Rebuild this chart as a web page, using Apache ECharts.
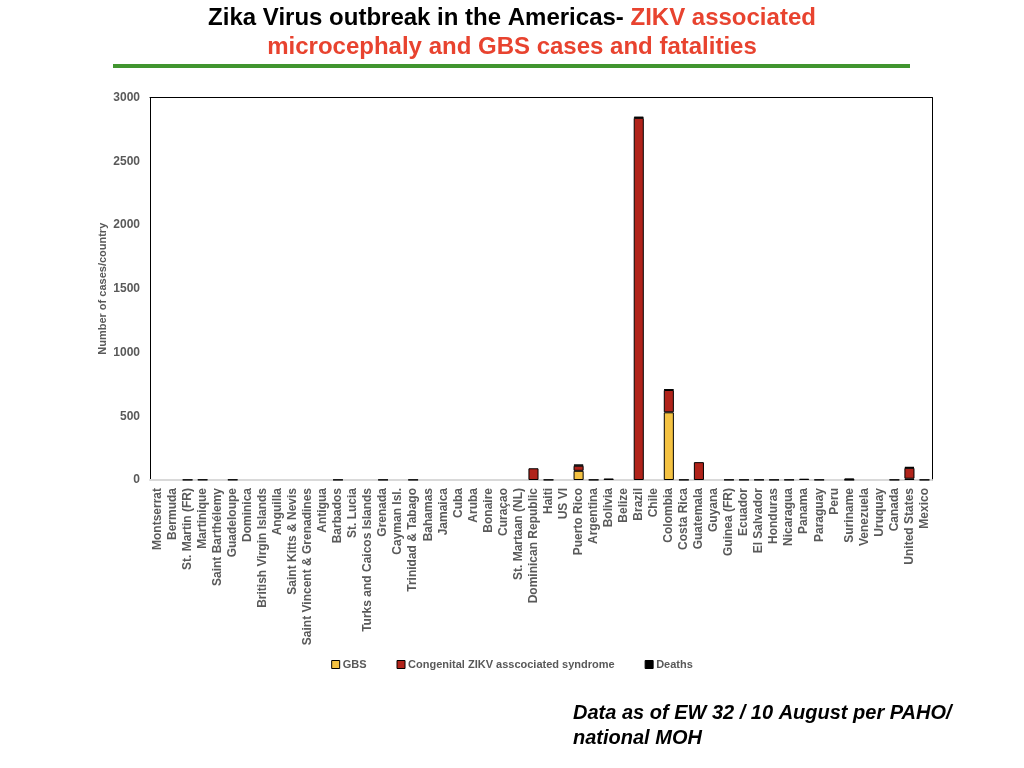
<!DOCTYPE html>
<html>
<head>
<meta charset="utf-8">
<title>Zika Virus outbreak in the Americas</title>
<script src="https://cdn.jsdelivr.net/npm/echarts@6/dist/echarts.min.js"></script>
<style>
    html, body { margin: 0; padding: 0; background: #fff; }
    #chart { width: 1024px; height: 768px; }
</style>
</head>
<body>
<div id="chart"></div>
<script>
// countries in order along the x axis
var countries = [
    'Montserrat', 'Bermuda', 'St. Martin (FR)', 'Martinique', 'Saint Barthélemy',
    'Guadeloupe', 'Dominica', 'British Virgin Islands', 'Anguilla', 'Saint Kitts & Nevis',
    'Saint Vincent & Grenadines', 'Antigua', 'Barbados', 'St. Lucia', 'Turks and Caicos Islands',
    'Grenada', 'Cayman Isl.', 'Trinidad & Tabago', 'Bahamas', 'Jamaica',
    'Cuba', 'Aruba', 'Bonaire', 'Curaçao', 'St. Martaan (NL)',
    'Dominican Republic', 'Haiti', 'US VI', 'Puerto Rico', 'Argentina',
    'Bolivia', 'Belize', 'Brazil', 'Chile', 'Colombia',
    'Costa Rica', 'Guatemala', 'Guyana', 'Guinea (FR)', 'Ecuador',
    'El Salvador', 'Honduras', 'Nicaragua', 'Panama', 'Paraguay',
    'Peru', 'Suriname', 'Venezuela', 'Uruquay', 'Canada',
    'United States', 'Mexico'
]
var gbs = [
    0, 0, 0, 0, 0, 0, 0, 0, 0, 0,
    0, 0, 0, 0, 0, 0, 0, 0, 0, 0,
    0, 0, 0, 0, 0, 0, 0, 0, 72, 0,
    0, 0, 0, 0, 531, 0, 0, 0, 0, 0,
    0, 0, 0, 0, 0, 0, 0, 0, 0, 0,
    10, 0
]
var czs = [
    0, 0, 2, 3, 0, 3, 0, 0, 0, 0,
    0, 0, 2, 0, 0, 2, 0, 2, 0, 0,
    0, 0, 0, 0, 0, 92, 2, 0, 40, 2,
    12, 0, 2840, 0, 175, 2, 140, 0, 2, 2,
    2, 2, 2, 10, 2, 0, 2, 0, 0, 2,
    85, 2
]
var deaths = [
    0, 0, 0, 0, 0, 0, 0, 0, 0, 0,
    0, 0, 0, 0, 0, 0, 0, 0, 0, 0,
    0, 0, 0, 0, 0, 0, 0, 0, 10, 0,
    0, 0, 10, 0, 5, 0, 0, 0, 0, 0,
    0, 0, 0, 0, 0, 0, 10, 0, 0, 0,
    8, 0
]

var grey = '#595959'
var font = 'Liberation Sans, Arial, Helvetica, sans-serif'

// empty cells stay empty (no stroked zero-height bar)
function clean(arr) {
    return arr.map(function(v) { return v === 0 ? '-' : v })
}

function barSeries(name, color, data) {
    return {
        name: name,
        type: 'bar',
        stack: 'total',
        barCategoryGap: '33%',
        xAxisIndex: 0,
        yAxisIndex: 0,
        itemStyle: {
            color: color,
            borderColor: '#000',
            borderWidth: 1,
        },
        emphasis: { disabled: true },
        data: clean(data),
    }
}

var chart = echarts.init(document.getElementById('chart'), null, { renderer: 'canvas' })

var option = {
    backgroundColor: '#fff',
    animation: false,
    textStyle: { fontFamily: font },
    title: {
        left: 'center',
        top: -1,
        text: '{b|Zika Virus outbreak in the Americas- }{r|ZIKV associated}\n{r|microcephaly and GBS cases and fatalities}',
        textStyle: {
            rich: {
                b: { fontSize: 24, fontWeight: 'bold', color: '#000', fontFamily: font, lineHeight: 29 },
                r: { fontSize: 24, fontWeight: 'bold', color: '#e8432f', fontFamily: font, lineHeight: 29 },
            },
        },
    },
    graphic: [
        {
            type: 'rect',
            shape: { x: 113, y: 64, width: 797, height: 4 },
            style: { fill: '#41952f' },
        },
        {
            type: 'text',
            left: 573,
            top: 701,
            style: {
                text: 'Data as of EW 32 / 10 August per PAHO/\nnational MOH',
                font: 'italic bold 20px ' + font,
                fill: '#000',
                lineHeight: 25,
            },
        },
    ],
    legend: {
        bottom: 93,
        left: 'center',
        icon: 'rect',
        itemWidth: 8,
        itemHeight: 8,
        itemGap: 30,
        selectedMode: false,
        itemStyle: { borderColor: '#000', borderWidth: 1 },
        textStyle: { fontSize: 11, fontWeight: 'bold', color: grey, padding: [0, 0, 0, -2] },
        data: ['GBS', 'Congenital ZIKV asscociated syndrome', 'Deaths'],
    },
    grid: {
        left: 150,
        right: 92,
        top: 97.5,
        bottom: 288,
        containLabel: false,
    },
    xAxis: [
        {
            type: 'category',
            data: countries,
            axisTick: { show: false },
            axisLine: { lineStyle: { color: '#d9d9d9', width: 2 } },
            axisLabel: {
                interval: 0,
                rotate: 90,
                margin: 8,
                fontSize: 12,
                fontWeight: 'bold',
                color: grey,
            },
        },
        {
            type: 'category',
            position: 'top',
            data: countries,
            axisTick: { show: false },
            axisLabel: { show: false },
            axisLine: { show: true, onZero: false, lineStyle: { color: '#000', width: 1 } },
        },
    ],
    yAxis: [
        {
            type: 'value',
            min: 0,
            max: 3000,
            interval: 500,
            name: 'Number of cases/country',
            nameLocation: 'middle',
            nameGap: 42,
            nameMoveOverlap: false,
            nameRotate: 90,
            nameTextStyle: { fontSize: 11, fontWeight: 'bold', color: grey },
            axisTick: { show: false },
            axisLine: { show: true, onZero: false, lineStyle: { color: '#000', width: 1 } },
            splitLine: { show: false },
            axisLabel: {
                fontSize: 12,
                fontWeight: 'bold',
                color: grey,
                margin: 10,
                formatter: function(v) { return String(v) },
            },
        },
        {
            type: 'value',
            position: 'right',
            min: 0,
            max: 3000,
            interval: 500,
            axisTick: { show: false },
            axisLabel: { show: false },
            splitLine: { show: false },
            axisLine: { show: true, onZero: false, lineStyle: { color: '#000', width: 1 } },
        },
    ],
    series: [
        barSeries('GBS', '#f4c242', gbs),
        barSeries('Congenital ZIKV asscociated syndrome', '#b0231a', czs),
        barSeries('Deaths', '#000', deaths),
    ],
}

chart.setOption(option)
</script>
</body>
</html>
